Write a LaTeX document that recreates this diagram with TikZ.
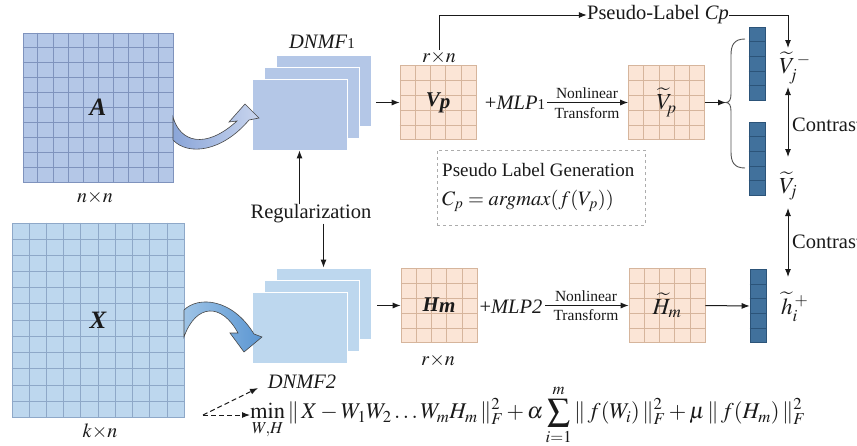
\documentclass[tikz,border=0pt]{standalone}
\usepackage{mathptmx}
\usepackage{fontspec}
\setmainfont{Liberation Serif}
\usetikzlibrary{arrows.meta,calc}
\definecolor{cA}{HTML}{B4C7E7}
\definecolor{gA}{HTML}{7F93BD}
\definecolor{cX}{HTML}{BDD7EE}
\definecolor{gX}{HTML}{8EA8C8}
\definecolor{cP}{HTML}{FBE5D6}
\definecolor{gP}{HTML}{D6B59C}
\definecolor{cV}{HTML}{41719C}
\definecolor{gV}{HTML}{2C5479}
\definecolor{ink}{HTML}{1A1A1A}
\definecolor{aL1}{HTML}{8AA5D8}
\definecolor{aR1}{HTML}{C9D5EE}
\definecolor{aL2}{HTML}{9DC3E6}
\definecolor{aR2}{HTML}{5B96D2}
\newcommand\vlines[4]{\foreach \i in {1,...,#2}{\draw[#4] ($(#1.north west)!\i/#3!(#1.north east)$) -- ($(#1.south west)!\i/#3!(#1.south east)$);}}
\newcommand\hlines[4]{\foreach \i in {1,...,#2}{\draw[#4] ($(#1.north west)!\i/#3!(#1.south west)$) -- ($(#1.north east)!\i/#3!(#1.south east)$);}}
\tikzset{
  arr/.style={-{Latex[length=8pt,width=6pt]}, line width=1pt, draw=ink},
  darr/.style={{Latex[length=8pt,width=6pt]}-{Latex[length=8pt,width=6pt]}, line width=1pt, draw=ink},
  dasharr/.style={arr, dashed, dash pattern=on 5pt off 3pt},
  txt/.style={font=\fontsize{20.5}{24}\selectfont, inner sep=0pt, text=ink},
  bigmath/.style={font=\fontsize{23}{26}\selectfont, inner sep=0pt, text=ink},
  smalltxt/.style={font=\fontsize{15.5}{17}\selectfont, inner sep=0pt, text=ink},
  dimtxt/.style={font=\fontsize{20}{22}\selectfont, inner sep=0pt, text=ink},
  mattxt/.style={font=\fontsize{25}{28}\selectfont\bfseries\itshape, inner sep=0pt, text=ink},
  boxA/.style={fill=cA, draw=gA, line width=0.6pt, inner sep=0pt},
  boxX/.style={fill=cX, draw=gX, line width=0.6pt, inner sep=0pt},
  boxP/.style={fill=cP, draw=gP, line width=0.6pt, inner sep=0pt, minimum width=76pt, minimum height=74pt},
  boxV/.style={fill=cV, draw=gV, line width=0.6pt, inner sep=0pt, minimum width=16pt, minimum height=73pt},
  layA/.style={fill=cA, draw=white, line width=0.8pt, inner sep=0pt, minimum width=95pt, minimum height=71pt},
  layX/.style={fill=cX, draw=white, line width=0.8pt, inner sep=0pt, minimum width=95pt, minimum height=71pt},
  gridA/.style={draw=gA, line width=0.6pt},
  gridX/.style={draw=gX, line width=0.6pt},
  gridP/.style={draw=gP, line width=0.6pt},
  gridV/.style={draw=gV, line width=0.6pt},
}
\begin{document}
\begin{tikzpicture}[x=1pt,y=-1pt]
\useasboundingbox (0,0) rectangle (857,445);
\fill[white] (0,0) rectangle (857,445);

% ---- input matrices
\node[boxA, minimum width=150pt, minimum height=149pt] (A) at (98,107.5) {};
\vlines{A}{9}{10}{gridA}\hlines{A}{9}{10}{gridA}
\node[mattxt] (Alab) at (A) {A};
\node[dimtxt] (nn) at (95,197) {$n{\times}n$};

\node[boxX, minimum width=172pt, minimum height=194pt] (X) at (98,320) {};
\vlines{X}{9}{10}{gridX}\hlines{X}{11}{12}{gridX}
\node[mattxt] (Xlab) at (X) {X};
\node[dimtxt] (kn) at (100,431) {$k{\times}n$};

% ---- DNMF stacks
\node[layA] (D1back) at (323.5,90.5) {};
\node[layA] (D1mid) at (311.5,102.5) {};
\node[layA] (D1front) at (299.5,114.5) {};
\node[txt] (D1lab) at (322,42) {\textit{DNMF}{\fontsize{15}{17}\selectfont 1}};

\node[layX] (D2back) at (323.5,303.5) {};
\node[layX] (D2mid) at (311.5,315.5) {};
\node[layX] (D2front) at (299.5,327.5) {};
\node[txt] (D2lab) at (302,382) {\textit{DNMF2}};

% ---- curved block arrows
\shade[left color=aL1, right color=aR1, draw=ink!80, line width=0.6pt]
  (173,117) .. controls (180,142) and (205,150) .. (237,121) -- (229,122) -- (245,104) -- (259,118) -- (249,120)
  .. controls (222,152) and (188,156) .. (173,140) -- cycle;
\shade[left color=aL2, right color=aR2, draw=ink!80, line width=0.6pt]
  (184,310) .. controls (198,296) and (232,298) .. (254,334) -- (262,337) -- (244,352) -- (230,333) -- (238,333)
  .. controls (222,303) and (196,303) .. (184,337) -- cycle;

% ---- regularization
\node[txt] (reg) at (311,214) {Regularization};
\draw[arr] (reg.north -| D1front.south) -- (D1front.south);
\draw[arr] (reg.south -| D2back.north) -- (D2back.north);

% ---- top branch
\node[boxP] (Vp) at (438,102.5) {};
\vlines{Vp}{4}{5}{gridP}\hlines{Vp}{4}{5}{gridP}
\node[txt, font=\fontsize{21}{24}\selectfont\bfseries\itshape] (Vplab) at (Vp) {V\raisebox{-2pt}{p}};
\node[dimtxt] (rn1) at (439,57) {$r{\times}n$};
\coordinate (d1out) at (376,102.5);
\draw[arr] (d1out) -- (Vp.west);

\node[txt] (mlp1) at (515,103) {+\textit{MLP}{\fontsize{15}{17}\selectfont 1}};
\node[boxP] (Vpt) at (666.5,102.5) {};
\vlines{Vpt}{4}{5}{gridP}\hlines{Vpt}{4}{5}{gridP}
\node[bigmath] (Vptlab) at (Vpt) {$\widetilde{V}_{\!p}$};
\coordinate (nl1s) at (547,102.5);
\draw[arr] (nl1s) -- (Vpt.west);
\node[smalltxt] (nl1) at (587,93) {Nonlinear};
\node[smalltxt] (tr1) at (587,113) {Transform};

% pseudo label
\node[txt] (pl) at (658,15) {Pseudo-Label \textit{Cp}};
\draw[arr] (rn1.north) |- (pl.west);
\coordinate (vjmtop) at (788,48);
\draw[arr] (pl.east) -| (vjmtop);

% brace and vectors
\coordinate (btip) at (726,102.5);
\draw[arr] (Vpt.east) -- (btip);
\draw[draw=ink!75, line width=0.9pt] (745,39) .. controls (734,39) and (731,45) .. (731,55) -- (731,94)
  .. controls (731,100) and (729,102.5) .. (726,102.5) .. controls (729,102.5) and (731,105) .. (731,111)
  -- (731,152) .. controls (731,162) and (734,168) .. (745,168);
\node[boxV] (v1) at (757,63.5) {};
\hlines{v1}{4}{5}{gridV}
\node[boxV] (v2) at (757,158.5) {};
\hlines{v2}{4}{5}{gridV}

\node[bigmath, anchor=west] (vjm) at (779,68) {$\widetilde{V}_{\!j}^{\,-}$};
\node[bigmath, anchor=west] (vj) at (779,186) {$\widetilde{V}_{\!j}$};
\coordinate (c1a) at (788,87);
\coordinate (c1b) at (788,157);
\draw[darr] (c1a) -- (c1b);
\node[txt, anchor=west] (con1) at (792,125) {Contrast};
\coordinate (c2a) at (788,208);
\coordinate (c2b) at (788,277);
\draw[darr] (c2a) -- (c2b);
\node[txt, anchor=west] (con2) at (792,242) {Contrast};

% pseudo label generation box
\node[draw=gray!65, dashed, line width=0.7pt, minimum width=208pt, minimum height=75pt, inner sep=0pt] (plg) at (541,187.5) {};
\node[txt, font=\fontsize{19}{22}\selectfont, anchor=west] (plgt) at (442,170) {Pseudo Label Generation};
\node[txt, anchor=west] (plgf) at (442,201) {$C_p = \mathit{argmax}(f(V_p))$};

% ---- bottom branch
\node[boxP] (Hm) at (439,305.5) {};
\vlines{Hm}{4}{5}{gridP}\hlines{Hm}{4}{5}{gridP}
\node[txt, font=\fontsize{21}{24}\selectfont\bfseries\itshape] (Hmlab) at (Hm) {H\raisebox{-1pt}{m}};
\node[dimtxt] (rn2) at (438,360) {$r{\times}n$};
\coordinate (d2out) at (377,305.5);
\draw[arr] (d2out) -- (Hm.west);

\node[txt] (mlp2) at (511,307) {+\textit{MLP2}};
\node[boxP] (Hmt) at (667,305.5) {};
\vlines{Hmt}{4}{5}{gridP}\hlines{Hmt}{4}{5}{gridP}
\node[bigmath] (Hmtlab) at (Hmt) {$\widetilde{H}_m$};
\coordinate (nl2s) at (545,305.5);
\draw[arr] (nl2s) -- (Hmt.west);
\node[smalltxt] (nl2) at (586,296) {Nonlinear};
\node[smalltxt] (tr2) at (586,315) {Transform};

\node[boxV] (v3) at (758,306) {};
\hlines{v3}{4}{5}{gridV}
\draw[arr] (Hmt.east) -- (v3.west);
\node[bigmath, anchor=west] (hip) at (781,307) {$\widetilde{h}_i^{\,+}$};

% ---- objective
\node[bigmath, font=\fontsize{22.5}{26}\selectfont, anchor=west] (obj) at (250,415) {$\displaystyle\min_{W,H}\|\,X - W_1W_2\ldots W_mH_m\,\|_F^2 + \alpha\sum_{i=1}^{m}\|\,f(W_i)\,\|_F^2 + \mu\,\|\,f(H_m)\,\|_F^2$};
\coordinate (dj) at (203,415);
\coordinate (d2in) at (258,388);
\draw[dasharr] (dj) -- (d2in);
\draw[dasharr] (dj) -- (obj.west);
\end{tikzpicture}
\end{document}
